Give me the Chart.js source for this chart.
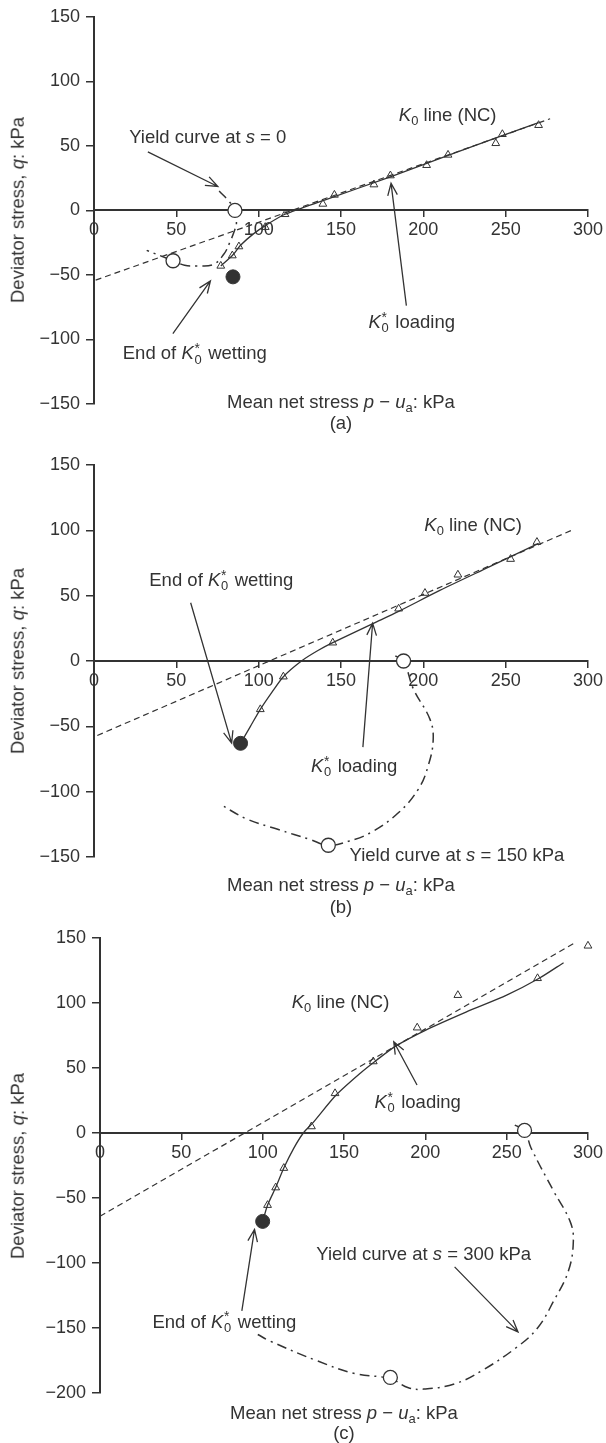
<!DOCTYPE html>
<html>
<head>
<meta charset="utf-8">
<script src="https://cdn.jsdelivr.net/npm/chart.js@4.4.1/dist/chart.umd.min.js"></script>
<style>
  html, body { margin: 0; padding: 0; background: #fff; }
  body { width: 606px; height: 1443px; position: relative; overflow: hidden;
         font-family: "Liberation Sans", Arial, sans-serif; color: #333; }
  .panel { position: absolute; left: 0; width: 606px; }
  .panel canvas { position: absolute; left: 0; top: 0; }
  .lbl { position: absolute; white-space: nowrap; font-size: 18.5px; line-height: 1;
         transform: translate(-50%, -50%); }
  .ytitle { position: absolute; white-space: nowrap; font-size: 18.5px; line-height: 1;
            transform: translate(-50%, -50%) rotate(-90deg); }
  sub { font-size: 0.7em; vertical-align: -0.3em; line-height: 0; }
  .ks { display: inline-block; position: relative; width: 0.5em; height: 0.7em; }
  .ks .up { position: absolute; left: 0.05em; top: -0.3em; font-size: 0.75em; }
  .ks .dn { position: absolute; left: 0.05em; top: 0.55em; font-size: 0.7em; }
</style>
</head>
<body>
<script>
// ---- panel (a): s = 0 ----
const aTriP   = [77, 84, 88, 104, 116, 139, 146, 170, 180, 202, 215, 244, 248, 270];
const aTriQ   = [-43, -35, -28, -13, -3, 5, 12, 20, 27, 35, 43, 52, 59, 66];
const aSolidP = [77, 84, 89, 97, 105, 116, 140, 180, 220, 270];
const aSolidQ = [-43, -35, -27, -18, -11, -3, 8, 26, 45, 68];
const aK0P    = [1, 277];
const aK0Q    = [-54, 71];
const aYieldP = [76, 82, 85.6, 86.5, 85.5, 82.4, 78.8, 72.3, 62, 55, 48, 36, 32];
const aYieldQ = [15, 7, 0, -10, -15, -25, -34, -42, -43, -42.5, -39, -33, -31];
const aOpenP  = [85.6, 48];
const aOpenQ  = [0, -39];
const aFillP  = [84.4];
const aFillQ  = [-51.5];

// ---- panel (b): s = 150 kPa ----
const bTriP   = [101, 115, 145, 185, 201, 221, 253, 269];
const bTriQ   = [-37, -12, 14, 40, 52, 66, 78, 91];
const bSolidP = [89, 95, 101, 108, 115, 126, 136, 145, 170, 185, 210, 240, 270];
const bSolidQ = [-63, -50, -37, -24, -12, 0, 8, 14, 29, 38, 54, 72, 90];
const bK0P    = [2, 290];
const bK0Q    = [-57, 100];
const bYieldP = [183, 188, 194, 204, 206, 203, 197, 185, 168.5, 154.5, 142.3, 131, 112, 93, 77];
const bYieldQ = [4, 0, -21.5, -44.5, -60, -80, -98, -116, -131, -138, -141, -136.5, -129, -121, -110];
const bOpenP  = [188, 142.3];
const bOpenQ  = [0, -141];
const bFillP  = [89];
const bFillQ  = [-63];

// ---- panel (c): s = 300 kPa ----
const cTriP   = [103, 108, 113, 130, 144.5, 168, 195, 220, 269, 300];
const cTriQ   = [-55.5, -42, -27, 5, 30.5, 55, 81, 106, 119, 144];
const cSolidP = [100, 103, 108, 113, 119, 125, 131, 145, 160, 170, 182, 200, 225, 250, 270, 285];
const cSolidQ = [-68, -55.5, -42, -27, -12, 0, 8, 29, 46, 56, 67, 79, 93, 106, 119, 131];
const cK0P    = [0, 293];
const cK0Q    = [-64, 147];
const cYieldP = [255, 261, 265, 279, 289, 291, 288, 279, 269, 256, 234.5, 218, 199, 189.6, 178.5, 156.5, 133, 104.5, 97];
const cYieldQ = [6, 2, -11.5, -45, -68, -83, -106, -129, -150, -165, -183, -193, -197, -196, -189, -185, -175, -160, -155];
const cOpenP  = [261, 178.5];
const cOpenQ  = [2, -188];
const cFillP  = [100];
const cFillQ  = [-68];

const xTicks = [0, 50, 100, 150, 200, 250, 300];

const INK = '#333';
const FONT = '"Liberation Sans", Arial, sans-serif';

const pts = (xs, ys) => xs.map((x, i) => ({ x, y: ys[i] }));

// rich text snippets
const K0 = '<i>K</i><sub>0</sub>';
const K0s = '<i>K</i><span class="ks"><span class="up">*</span><span class="dn">0</span></span>';
const XTITLE = 'Mean net stress <i>p</i> \u2212 <i>u</i><sub>a</sub>: kPa';
const YTITLE = 'Deviator stress, <i>q</i>: kPa';

// open-headed annotation arrows, given in data units
const arrowPlugin = {
  id: 'arrows',
  afterDatasetsDraw(chart, args, opts) {
    const { ctx, scales: { x, y } } = chart;
    ctx.save();
    ctx.strokeStyle = INK;
    ctx.lineWidth = 1.3;
    (opts.list || []).forEach(a => {
      const x0 = x.getPixelForValue(a.from[0]), y0 = y.getPixelForValue(a.from[1]);
      const x1 = x.getPixelForValue(a.to[0]),   y1 = y.getPixelForValue(a.to[1]);
      const ang = Math.atan2(y1 - y0, x1 - x0);
      const hl = 13, hw = 0.38;
      ctx.beginPath();
      ctx.moveTo(x0, y0); ctx.lineTo(x1, y1);
      ctx.moveTo(x1 - hl * Math.cos(ang - hw), y1 - hl * Math.sin(ang - hw));
      ctx.lineTo(x1, y1);
      ctx.lineTo(x1 - hl * Math.cos(ang + hw), y1 - hl * Math.sin(ang + hw));
      ctx.stroke();
    });
    ctx.restore();
  }
};

function buildPanel(p) {
  const wrap = document.createElement('div');
  wrap.className = 'panel';
  wrap.style.top = p.top + 'px';
  wrap.style.height = p.height + 'px';
  document.body.appendChild(wrap);

  const canvas = document.createElement('canvas');
  canvas.width = 606; canvas.height = p.height;
  canvas.style.width = '606px'; canvas.style.height = p.height + 'px';
  wrap.appendChild(canvas);

  const chart = new Chart(canvas, {
    type: 'scatter',
    data: {
      datasets: [
        { data: pts(p.triP, p.triQ), order: 1, pointStyle: 'triangle', pointRadius: 4.5,
          borderColor: INK, borderWidth: 1, backgroundColor: 'rgba(0,0,0,0)' },
        { data: pts(p.openP, p.openQ), order: 0, pointStyle: 'circle', pointRadius: 7,
          borderColor: INK, borderWidth: 1.3, backgroundColor: '#fff' },
        { data: pts(p.fillP, p.fillQ), order: 0, pointStyle: 'circle', pointRadius: 7,
          borderColor: INK, borderWidth: 1, backgroundColor: INK },
        { data: pts(p.solidP, p.solidQ), order: 3, showLine: true, tension: 0.25, pointRadius: 0,
          borderColor: INK, borderWidth: 1.3 },
        { data: pts(p.k0P, p.k0Q), order: 4, showLine: true, pointRadius: 0,
          borderColor: INK, borderWidth: 1.2, borderDash: [6, 4] },
        { data: pts(p.yieldP, p.yieldQ), order: 2, showLine: true, tension: 0.4, pointRadius: 0,
          borderColor: INK, borderWidth: 1.5, borderDash: [10, 5, 2, 5] },
      ].map(d => Object.assign({ clip: false, fill: false }, d))
    },
    options: {
      responsive: false, animation: false, devicePixelRatio: 1,
      layout: { padding: { top: p.padTop, bottom: p.padBottom, right: p.padRight, left: 0 } },
      events: [],
      plugins: {
        legend: { display: false },
        tooltip: { enabled: false },
        arrows: { list: p.arrows }
      },
      scales: {
        x: {
          type: 'linear', position: { y: 0 }, min: 0, max: 300,
          afterBuildTicks: s => { s.ticks = xTicks.map(v => ({ value: v })); },
          ticks: { color: INK, padding: 3, font: { family: FONT, size: 18 } },
          grid: { drawOnChartArea: false, drawTicks: true, tickLength: 6, color: INK, lineWidth: 1.5 },
          border: { display: true, color: INK, width: 2 }
        },
        y: {
          type: 'linear', position: 'left', min: p.yMin, max: 150,
          afterBuildTicks: s => { s.ticks = p.yTicks.map(v => ({ value: v })); },
          afterFit: s => { s.width = p.left; },
          ticks: {
            color: INK, padding: 6, font: { family: FONT, size: 18 },
            callback: v => v < 0 ? '\u2212' + Math.abs(v) : String(v)
          },
          grid: { drawOnChartArea: false, drawTicks: true, tickLength: 8, color: INK, lineWidth: 1.5 },
          border: { display: true, color: INK, width: 2 }
        }
      }
    },
    plugins: [arrowPlugin]
  });

  const sx = chart.scales.x, sy = chart.scales.y;
  p.labels.forEach(l => {
    const d = document.createElement('div');
    d.className = 'lbl';
    d.innerHTML = l.html;
    d.style.left = sx.getPixelForValue(l.x) + 'px';
    d.style.top = sy.getPixelForValue(l.y) + 'px';
    wrap.appendChild(d);
  });

  const yt = document.createElement('div');
  yt.className = 'ytitle';
  yt.innerHTML = YTITLE;
  yt.style.left = '18px';
  yt.style.top = ((chart.chartArea.top + chart.chartArea.bottom) / 2) + 'px';
  wrap.appendChild(yt);

  return chart;
}

buildPanel({
  top: 0, height: 440, padTop: 15, padBottom: 36, padRight: 17, left: 94,
  yMin: -150, yTicks: [-150, -100, -50, 0, 50, 100, 150],
  triP: aTriP, triQ: aTriQ, solidP: aSolidP, solidQ: aSolidQ, k0P: aK0P, k0Q: aK0Q,
  yieldP: aYieldP, yieldQ: aYieldQ, openP: aOpenP, openQ: aOpenQ, fillP: aFillP, fillQ: aFillQ,
  arrows: [
    { from: [32.7, 45.4], to: [75.2, 18.5] },
    { from: [189.7, -73.8], to: [180.4, 21] },
    { from: [47.9, -95.4], to: [70.7, -54.6] }
  ],
  labels: [
    { x: 69.1, y: 56.9, html: 'Yield curve at <i>s</i> = 0' },
    { x: 214.8, y: 73.8, html: K0 + ' line (NC)' },
    { x: 193, y: -86.7, html: K0s + ' loading' },
    { x: 61.2, y: -110.8, html: 'End of ' + K0s + ' wetting' },
    { x: 150, y: -148.2, html: XTITLE },
    { x: 150, y: -164.6, html: '(a)' }
  ]
});

buildPanel({
  top: 440, height: 470, padTop: 25, padBottom: 53, padRight: 18, left: 94,
  yMin: -150, yTicks: [-150, -100, -50, 0, 50, 100, 150],
  triP: bTriP, triQ: bTriQ, solidP: bSolidP, solidQ: bSolidQ, k0P: bK0P, k0Q: bK0Q,
  yieldP: bYieldP, yieldQ: bYieldQ, openP: bOpenP, openQ: bOpenQ, fillP: bFillP, fillQ: bFillQ,
  arrows: [
    { from: [58.7, 44.6], to: [83.6, -62.9] },
    { from: [163.3, -65.9], to: [169.2, 28.9] }
  ],
  labels: [
    { x: 230.3, y: 104.1, html: K0 + ' line (NC)' },
    { x: 77.3, y: 62, html: 'End of ' + K0s + ' wetting' },
    { x: 158, y: -80.2, html: K0s + ' loading' },
    { x: 220.4, y: -148.5, html: 'Yield curve at <i>s</i> = 150 kPa' },
    { x: 150, y: -171.5, html: XTITLE },
    { x: 150, y: -188, html: '(b)' }
  ]
});

buildPanel({
  top: 910, height: 533, padTop: 28, padBottom: 50, padRight: 16, left: 100,
  yMin: -200, yTicks: [-200, -150, -100, -50, 0, 50, 100, 150],
  triP: cTriP, triQ: cTriQ, solidP: cSolidP, solidQ: cSolidQ, k0P: cK0P, k0Q: cK0Q,
  yieldP: cYieldP, yieldQ: cYieldQ, openP: cOpenP, openQ: cOpenQ, fillP: cFillP, fillQ: cFillQ,
  arrows: [
    { from: [194.9, 36.9], to: [180.6, 70.2] },
    { from: [87.2, -136.8], to: [95, -74.2] },
    { from: [218, -103], to: [257, -153] }
  ],
  labels: [
    { x: 147.9, y: 101, html: K0 + ' line (NC)' },
    { x: 195.3, y: 24.1, html: K0s + ' loading' },
    { x: 76.5, y: -145, html: 'End of ' + K0s + ' wetting' },
    { x: 199, y: -92.8, html: 'Yield curve at <i>s</i> = 300 kPa' },
    { x: 150, y: -215.2, html: XTITLE },
    { x: 150, y: -231, html: '(c)' }
  ]
});
</script>
</body>
</html>
